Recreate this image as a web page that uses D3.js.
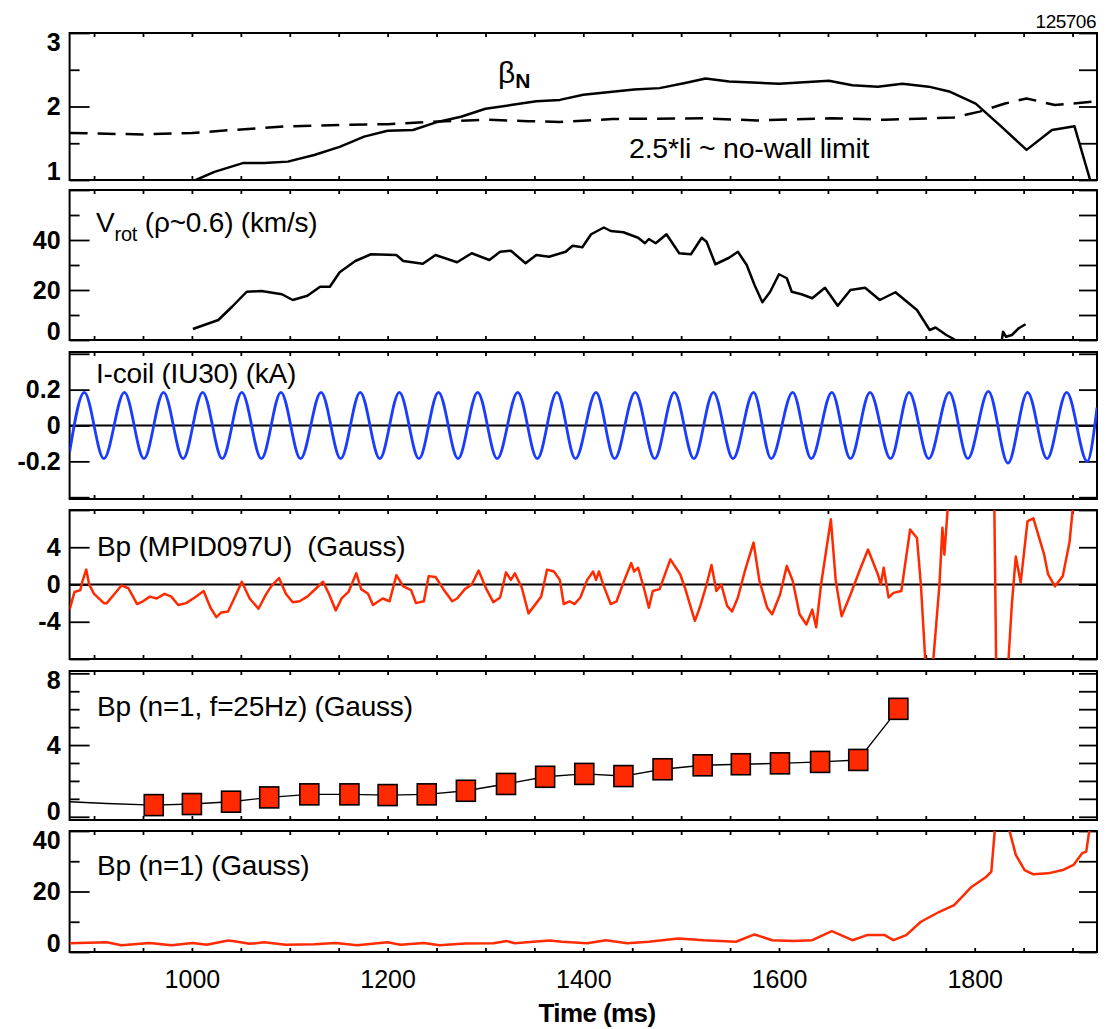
<!DOCTYPE html>
<html>
<head>
<meta charset="utf-8">
<script src="https://cdn.jsdelivr.net/npm/d3@7"></script>
<style>
body { margin: 0; background: #fff; }
svg { display: block; font-family: "Liberation Sans", Arial, sans-serif; }
.tick line { stroke: #000; stroke-width: 1.8; }
.ylab .tick text { font-size: 25px; font-weight: bold; fill: #000; }
.xlab .tick text { font-size: 25px; fill: #000; }
</style>
</head>
<body>
<div id="chart"></div>
<script>
// beta_N and 2.5*li
var betaT = [995, 1004, 1023, 1052, 1074, 1098, 1125, 1151, 1176, 1200, 1226, 1251, 1275, 1300, 1326, 1352, 1376, 1400, 1452, 1478, 1504, 1525, 1549, 1600, 1651, 1675, 1701, 1726, 1753, 1775, 1801, 1827, 1853, 1879, 1902, 1918, 1925];
var betaV = [0.95, 1.0, 1.11, 1.23, 1.23, 1.25, 1.34, 1.45, 1.59, 1.67, 1.68, 1.79, 1.86, 1.97, 2.02, 2.07, 2.09, 2.16, 2.23, 2.25, 2.32, 2.38, 2.34, 2.31, 2.35, 2.29, 2.27, 2.31, 2.27, 2.20, 2.04, 1.73, 1.41, 1.68, 1.73, 1.0, 0.7];
var liT = [875, 950, 1000, 1041, 1096, 1151, 1200, 1242, 1300, 1344, 1376, 1430, 1523, 1578, 1653, 1708, 1779, 1805, 1831, 1853, 1882, 1925];
var liV = [1.64, 1.62, 1.64, 1.68, 1.73, 1.75, 1.76, 1.79, 1.82, 1.80, 1.79, 1.83, 1.84, 1.81, 1.84, 1.82, 1.85, 1.93, 2.04, 2.11, 2.02, 2.07];

// toroidal rotation
var vrotT = [1001, 1027, 1041, 1056, 1071, 1092, 1103, 1118, 1131, 1141, 1151, 1167, 1183, 1209, 1216, 1236, 1249, 1271, 1286, 1304, 1315, 1326, 1341, 1352, 1365, 1382, 1389, 1399, 1408, 1421, 1428, 1441, 1456, 1463, 1467, 1474, 1485, 1498, 1510, 1521, 1526, 1535, 1549, 1558, 1567, 1575, 1583, 1591, 1600, 1608, 1613, 1623, 1634, 1647, 1660, 1673, 1688, 1703, 1719, 1741, 1754, 1760, 1771, 1779, 1790, 1815, 1827, 1829, 1832, 1838, 1845, 1852];
var vrotV = [4.4, 8, 13.3, 19.3, 19.6, 18.3, 16, 17.7, 21.3, 21.3, 27.1, 31.6, 34.3, 34, 31.6, 30.5, 34, 31.1, 34.7, 32, 35.3, 35.7, 30.7, 34, 33.3, 35.3, 37.7, 37.1, 42.3, 45, 43.6, 43.1, 40.9, 38.7, 40.4, 38.7, 42.3, 34.7, 34.3, 40.9, 39.3, 30.3, 32.9, 35.3, 30, 22, 15.1, 19.3, 26.3, 24.7, 19.3, 18.3, 16.7, 20.9, 13.7, 20, 20.9, 16, 19.1, 12, 4, 5, 2, 0.3, -5, -6, -2, 3.3, 1.3, 2, 4.7, 6.3];

// I-coil current: peaks and troughs of the 25 Hz waveform
var coilT = [875, 890, 910, 931, 951, 971, 991, 1011, 1031, 1051, 1071, 1091, 1111, 1132, 1152, 1172, 1192, 1212, 1232, 1252, 1272, 1292, 1312, 1333, 1353, 1373, 1392, 1413, 1432, 1453, 1473, 1493, 1513, 1533, 1553, 1574, 1592, 1614, 1633, 1654, 1673, 1693, 1714, 1733, 1753, 1774, 1793, 1814, 1834, 1854, 1874, 1894, 1915, 1925];
var coilV = [-0.15, 0.185, -0.185, 0.185, -0.185, 0.185, -0.185, 0.185, -0.185, 0.185, -0.185, 0.185, -0.185, 0.185, -0.185, 0.185, -0.185, 0.185, -0.185, 0.185, -0.185, 0.185, -0.185, 0.185, -0.185, 0.185, -0.185, 0.185, -0.185, 0.185, -0.185, 0.185, -0.185, 0.185, -0.185, 0.185, -0.185, 0.185, -0.185, 0.185, -0.185, 0.185, -0.185, 0.185, -0.185, 0.185, -0.185, 0.19, -0.21, 0.185, -0.185, 0.185, -0.2, 0.1];

// Bp MPID097U
var bpT = [875, 880, 886, 888, 892, 895, 900, 910, 913, 921, 928, 935, 944, 950, 957, 964, 972, 979, 986, 994, 1003, 1012, 1019, 1025, 1030, 1037, 1045, 1051, 1059, 1068, 1076, 1081, 1089, 1096, 1103, 1110, 1118, 1127, 1134, 1140, 1147, 1153, 1160, 1168, 1173, 1180, 1185, 1195, 1202, 1209, 1216, 1224, 1229, 1237, 1242, 1249, 1257, 1266, 1271, 1279, 1286, 1293, 1301, 1308, 1315, 1321, 1326, 1330, 1337, 1344, 1352, 1357, 1363, 1370, 1376, 1380, 1386, 1391, 1397, 1404, 1410, 1413, 1416, 1421, 1428, 1434, 1441, 1449, 1452, 1456, 1462, 1467, 1471, 1478, 1484, 1489, 1499, 1504, 1514, 1519, 1526, 1531, 1536, 1541, 1547, 1552, 1558, 1565, 1574, 1580, 1588, 1593, 1601, 1608, 1614, 1621, 1628, 1634, 1638, 1643, 1653, 1658, 1664, 1673, 1682, 1691, 1701, 1704, 1707, 1712, 1717, 1725, 1734, 1741, 1745, 1750, 1757, 1764, 1767, 1769, 1773, 1820, 1822, 1828, 1834, 1838, 1842, 1847, 1854, 1860, 1871, 1875, 1882, 1890, 1897, 1901, 1925];
var bpV = [-2.7, -0.8, -0.6, 0.3, 1.6, 0.0, -1.0, -2.0, -2.0, -1.0, -0.1, -0.4, -2.1, -1.8, -1.3, -1.5, -1.0, -1.3, -2.2, -2.0, -1.4, -0.7, -2.5, -3.5, -3.0, -2.9, -1.1, 0.3, -1.5, -2.6, -1.0, -0.2, 0.7, -1.0, -1.9, -1.8, -1.3, -0.4, 0.3, -1.0, -2.8, -1.5, -0.8, 1.2, -0.5, -1.0, -2.2, -1.5, -1.8, 1.0, -0.2, -0.6, -2.0, -1.8, 0.9, 0.8, -0.5, -1.8, -1.5, -0.5, 0.0, 1.5, -0.5, -1.9, -1.4, 1.3, 0.5, 1.2, -0.3, -3.1, -2.0, -1.3, 1.6, 1.4, 0.5, -2.1, -1.8, -2.1, -1.4, 0.5, 1.4, 0.5, 1.4, -0.2, -2.1, -1.8, 0.2, 2.3, 1.4, 1.8, -0.4, -2.5, -0.7, -0.5, 1.25, 2.7, 1.1, -0.4, -3.9, -2.5, 0, 2.1, -0.7, 0, -2.3, -2.9, -1.4, 1.4, 4.5, 0.4, -2.5, -3.2, -1.1, 2.0, 0.4, -3.2, -4.3, -2.7, -4.6, 0, 7.0, 0.4, -3.4, -1.1, 1.4, 3.75, 1.1, 0, 1.8, -1.4, -0.9, -0.7, 5.9, 5.0, 0, -9, -9, 0, 6.1, 3.2, 9, 9, -9, -9, -9, -2.1, 3.0, 0.2, 6.8, 7.1, 3.2, 1.1, -0.2, 0.9, 4.6, 9, 9];

// Bp n=1 at 25 Hz (square markers) and lead-in line
var leadT = [875, 913];
var leadV = [0.84, 0.74];
var n25T = [961, 1000, 1040, 1079, 1120, 1161, 1200, 1240, 1280, 1321, 1361, 1401, 1441, 1481, 1522, 1561, 1601, 1642, 1681, 1722];
var n25V = [0.65, 0.71, 0.84, 1.08, 1.25, 1.25, 1.21, 1.25, 1.45, 1.83, 2.23, 2.39, 2.27, 2.65, 2.87, 2.93, 2.98, 3.06, 3.17, 6.02];

// Bp n=1 total
var n1T = [875, 913, 928, 957, 979, 1001, 1015, 1037, 1045, 1059, 1074, 1096, 1125, 1147, 1169, 1200, 1213, 1237, 1253, 1279, 1308, 1322, 1330, 1352, 1366, 1378, 1404, 1423, 1445, 1467, 1497, 1523, 1556, 1575, 1593, 1615, 1634, 1654, 1675, 1690, 1708, 1717, 1730, 1745, 1764, 1779, 1797, 1812, 1817, 1821, 1827, 1834, 1842, 1851, 1860, 1875, 1890, 1901, 1910, 1914, 1918, 1922];
var n1V = [2.9, 3.2, 2.2, 3.0, 2.2, 3.0, 2.4, 3.8, 3.5, 2.7, 3.2, 2.4, 2.6, 3.0, 2.2, 3.2, 2.4, 3.0, 2.2, 2.8, 2.9, 3.6, 2.9, 3.5, 3.8, 3.4, 2.9, 3.9, 2.9, 3.4, 4.5, 3.9, 3.4, 5.8, 3.9, 3.6, 3.9, 6.9, 3.9, 5.6, 5.6, 3.9, 5.6, 10, 13.3, 15.5, 21.6, 24.9, 26.6, 42, 50, 42, 32.1, 27.1, 25.7, 26, 27.1, 28.8, 32.7, 33.2, 42, 50];

var xTickLabels = [1000, 1200, 1400, 1600, 1800];

var width = 1108, height = 1029;
var red = "#ff2a00", blue = "#1a3cff";

var svg = d3.select("#chart").append("svg")
    .attr("width", width)
    .attr("height", height);

var x = d3.scaleLinear().domain([875, 1925]).range([69.6, 1097]);
var xTicks = d3.range(900, 1925, 50);

var panels = [
  {id: 1, top: 33, bottom: 180, domain: [1, 3], major: [1, 2, 3], minor: [1.5, 2.5], labels: [1, 2, 3]},
  {id: 2, top: 190, bottom: 340, domain: [0, 60], major: [0, 20, 40, 60], minor: [10, 30, 50], labels: [0, 20, 40]},
  {id: 3, top: 352, bottom: 499, domain: [-0.41, 0.41], major: [-0.4, -0.2, 0, 0.2, 0.4], minor: [], labels: [-0.2, 0, 0.2]},
  {id: 4, top: 510, bottom: 659, domain: [-8, 8], major: [-8, -4, 0, 4, 8], minor: [], labels: [-4, 0, 4]},
  {id: 5, top: 671, bottom: 820, domain: [-0.18, 8.13], major: [0, 4, 8], minor: [1, 2, 3, 5, 6, 7], labels: [0, 4, 8]},
  {id: 6, top: 831, bottom: 952, domain: [0, 40], major: [0, 20, 40], minor: [10, 30], labels: [0, 20, 40]}
];

// plain hyphen for negatives, like the original plot
function fmt(d) { return String(d3.format("~g")(d)).replace("\u2212", "-"); }

function drawPanel(p, last) {
  var y = d3.scaleLinear().domain(p.domain).range([p.bottom, p.top]);
  var x0 = x.range()[0], x1 = x.range()[1];
  var g = svg.append("g");

  svg.append("clipPath").attr("id", "clip" + p.id)
    .append("rect")
    .attr("x", x0).attr("y", p.top)
    .attr("width", x1 - x0).attr("height", p.bottom - p.top);

  g.append("g").attr("transform", "translate(" + x0 + ",0)")
    .call(d3.axisLeft(y).tickValues(p.minor).tickSize(-10).tickFormat(""));

  var ya = g.append("g").attr("class", "ylab").attr("transform", "translate(" + x0 + ",0)")
    .call(d3.axisLeft(y).tickValues(p.major).tickSize(-20).tickPadding(9)
      .tickFormat(function(d) { return p.labels.indexOf(d) >= 0 ? fmt(d) : ""; }));
  // keep labels inside the panel height
  ya.selectAll(".tick text").attr("y", function(d) {
    var c = Math.max(p.top + 9, Math.min(p.bottom - 9, y(d)));
    return c - y(d);
  });

  g.append("g").attr("transform", "translate(" + x1 + ",0)")
    .call(d3.axisRight(y).tickValues(p.major.concat(p.minor)).tickSize(-18).tickFormat(""));

  g.append("g").attr("transform", "translate(0," + p.top + ")")
    .call(d3.axisTop(x).tickValues(xTicks).tickSize(-4).tickFormat(""));

  g.append("g").attr("class", "xlab").attr("transform", "translate(0," + p.bottom + ")")
    .call(d3.axisBottom(x).tickValues(xTicks).tickSize(-4).tickPadding(18)
      .tickFormat(function(d) { return last && xTickLabels.indexOf(d) >= 0 ? d : ""; }));

  g.selectAll(".domain").remove();

  g.append("rect")
    .attr("x", x0).attr("y", p.top)
    .attr("width", x1 - x0).attr("height", p.bottom - p.top)
    .attr("fill", "none").attr("stroke", "#000").attr("stroke-width", 2);

  return y;
}

function series(T, V) {
  return T.map(function(t, i) { return {t: t, v: V[i]}; });
}

function addLine(p, y, data, color, w, dash, curve) {
  var line = d3.line()
    .x(function(d) { return x(d.t); })
    .y(function(d) { return y(d.v); })
    .curve(curve || d3.curveLinear);
  svg.append("path")
    .datum(data)
    .attr("clip-path", "url(#clip" + p.id + ")")
    .attr("d", line)
    .attr("fill", "none")
    .attr("stroke", color)
    .attr("stroke-width", w)
    .attr("stroke-linejoin", "round")
    .attr("stroke-dasharray", dash || null);
}

function zeroLine(y) {
  svg.append("line")
    .attr("x1", x.range()[0]).attr("x2", x.range()[1])
    .attr("y1", y(0)).attr("y2", y(0))
    .attr("stroke", "#000").attr("stroke-width", 1.8);
}

var ys = panels.map(function(p, i) { return drawPanel(p, i === panels.length - 1); });

// panel 1
addLine(panels[0], ys[0], series(liT, liV), "#000", 2.5, "18,10");
addLine(panels[0], ys[0], series(betaT, betaV), "#000", 2.5);

// panel 2
addLine(panels[1], ys[1], series(vrotT, vrotV), "#000", 2.5);

// panel 3
zeroLine(ys[2]);
addLine(panels[2], ys[2], series(coilT, coilV), blue, 2.8, null, d3.curveMonotoneX);

// panel 4
zeroLine(ys[3]);
addLine(panels[3], ys[3], series(bpT, bpV), red, 2.5);

// panel 5
var sq = series(n25T, n25V);
addLine(panels[4], ys[4], series(leadT, leadV).concat(sq), "#000", 1.4);
svg.append("g").selectAll("rect")
  .data(sq)
  .join("rect")
    .attr("x", function(d) { return x(d.t) - 9.5; })
    .attr("y", function(d) { return ys[4](d.v) - 10.5; })
    .attr("width", 19)
    .attr("height", 21)
    .attr("fill", red)
    .attr("stroke", "#000")
    .attr("stroke-width", 1.6);

// panel 6
addLine(panels[5], ys[5], series(n1T, n1V), red, 2.5);

// text labels
var txt = svg.append("g").attr("fill", "#000");

txt.append("text").attr("x", 1096).attr("y", 28).attr("text-anchor", "end")
  .attr("font-size", 19).attr("letter-spacing", -0.5).text("125706");

var bt = txt.append("text").attr("x", 498).attr("y", 83);
bt.append("tspan").attr("font-size", 30).text("\u03B2");
bt.append("tspan").attr("font-size", 21).attr("font-weight", "bold").attr("dy", 5).text("N");

txt.append("text").attr("x", 629).attr("y", 158).attr("font-size", 28.5).attr("letter-spacing", -0.2)
  .text("2.5*li ~ no-wall limit");

var vt = txt.append("text").attr("x", 96).attr("y", 232).attr("font-size", 28).attr("letter-spacing", -0.2);
vt.append("tspan").text("V");
vt.append("tspan").attr("font-size", 20).attr("dy", 9).text("rot");
vt.append("tspan").attr("dy", -9).text(" (\u03C1~0.6) (km/s)");

txt.append("text").attr("x", 96).attr("y", 383).attr("font-size", 28).attr("letter-spacing", -0.2)
  .text("I-coil (IU30) (kA)");
txt.append("text").attr("x", 97).attr("y", 556).attr("font-size", 28).attr("letter-spacing", -0.2)
  .style("white-space", "pre")
  .text("Bp (MPID097U)  (Gauss)");
txt.append("text").attr("x", 97).attr("y", 716).attr("font-size", 28).attr("letter-spacing", -0.2)
  .text("Bp (n=1, f=25Hz) (Gauss)");
txt.append("text").attr("x", 97).attr("y", 875).attr("font-size", 28).attr("letter-spacing", -0.2)
  .text("Bp (n=1) (Gauss)");

txt.append("text").attr("x", 597).attr("y", 1022).attr("text-anchor", "middle")
  .attr("font-size", 26).attr("font-weight", "bold").attr("letter-spacing", -0.6)
  .text("Time (ms)");
</script>
</body>
</html>
